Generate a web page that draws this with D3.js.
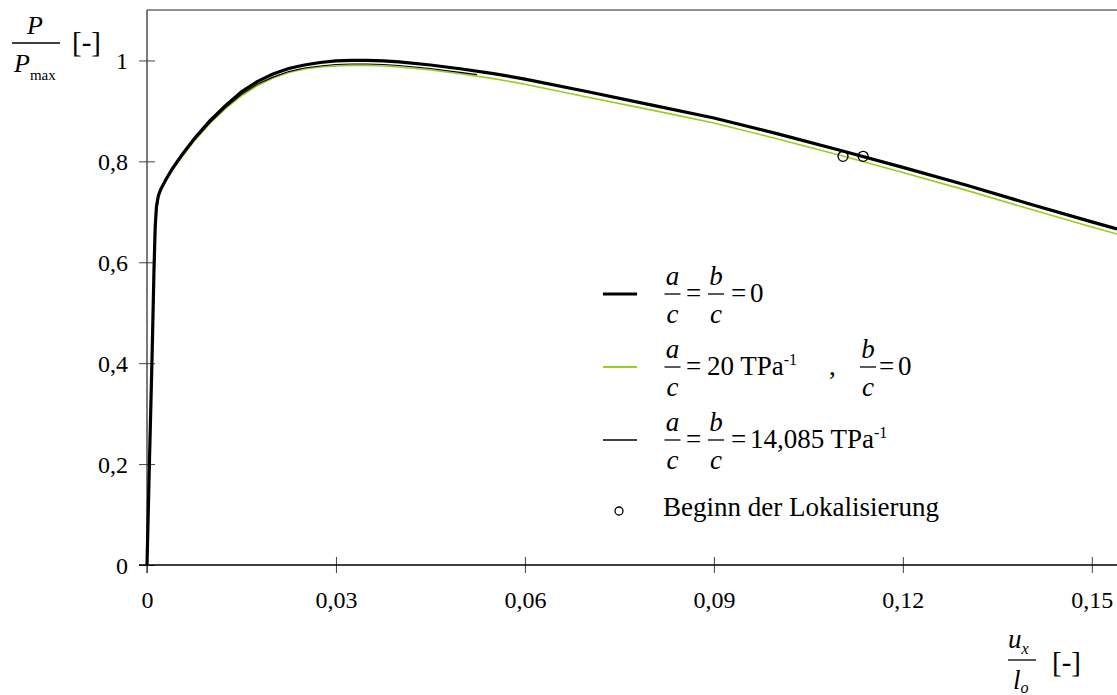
<!DOCTYPE html>
<html>
<head>
<meta charset="utf-8">
<script src="https://cdn.jsdelivr.net/npm/d3@7/dist/d3.min.js"></script>
<style>
  html, body { margin: 0; padding: 0; background: #fff; }
  svg { display: block; }
  text { font-family: "Liberation Serif", "Times New Roman", serif; fill: #000; }
  .it { font-style: italic; }
</style>
</head>
<body>
<svg id="chart" width="1117" height="695"></svg>
<script>
// Normalised load P/Pmax against normalised displacement u_x/l_o
const xGrid = [0, 0.0004, 0.0008, 0.0011, 0.0013, 0.0015, 0.0018, 0.0022, 0.003, 0.004,
  0.0055, 0.0075, 0.01, 0.0125, 0.015, 0.0175, 0.02, 0.0225, 0.025, 0.0275, 0.03,
  0.0325, 0.035, 0.0375, 0.04, 0.045, 0.05, 0.055, 0.06, 0.07, 0.08, 0.09, 0.10,
  0.11, 0.12, 0.13, 0.14, 0.15, 0.154];

// a/c = b/c = 0
const loadZero = [0, 0.21, 0.41, 0.58, 0.67, 0.71, 0.732, 0.745, 0.764, 0.785,
  0.812, 0.845, 0.881, 0.911, 0.938, 0.958, 0.973, 0.984, 0.991, 0.996, 0.999,
  1.0, 1.0, 0.999, 0.997, 0.991, 0.983, 0.974, 0.963, 0.938, 0.912, 0.886, 0.855,
  0.822, 0.788, 0.753, 0.716, 0.680, 0.666];

// a/c = 20 TPa^-1, b/c = 0
const loadA20 = [0, 0.20, 0.40, 0.56, 0.65, 0.70, 0.727, 0.742, 0.761, 0.782,
  0.808, 0.840, 0.875, 0.905, 0.930, 0.950, 0.965, 0.976, 0.983, 0.987, 0.989,
  0.990, 0.990, 0.989, 0.987, 0.981, 0.973, 0.964, 0.953, 0.927, 0.902, 0.876, 0.845,
  0.812, 0.778, 0.743, 0.706, 0.670, 0.656];

// a/c = b/c = 14,085 TPa^-1 (computed up to u_x/l_o = 0.0524)
const xGridAB = [0, 0.0004, 0.0008, 0.0011, 0.0013, 0.0015, 0.0018, 0.0022, 0.003, 0.004,
  0.0055, 0.0075, 0.01, 0.0125, 0.015, 0.0175, 0.02, 0.0225, 0.025, 0.0275, 0.03,
  0.0325, 0.035, 0.0375, 0.04, 0.045, 0.05, 0.0524];
const loadAB = [0, 0.21, 0.41, 0.57, 0.66, 0.705, 0.729, 0.743, 0.762, 0.783,
  0.810, 0.842, 0.877, 0.907, 0.933, 0.953, 0.967, 0.978, 0.985, 0.989, 0.992,
  0.993, 0.993, 0.992, 0.990, 0.984, 0.976, 0.972];

// onset of localisation
const localX = [0.1105, 0.1137];
const localY = [0.810, 0.810];

const xTicks = [0, 0.03, 0.06, 0.09, 0.12, 0.15];
const xTickLabels = ["0", "0,03", "0,06", "0,09", "0,12", "0,15"];
const yTicks = [0, 0.2, 0.4, 0.6, 0.8, 1];
const yTickLabels = ["0", "0,2", "0,4", "0,6", "0,8", "1"];

const serif = "'Liberation Serif', 'Times New Roman', serif";
const svg = d3.select("#chart").attr("font-family", serif);
const plotLeft = 147, plotRight = 1117, plotTop = 10, plotBottom = 565;

const x = d3.scaleLinear().domain([0, 0.154]).range([plotLeft, plotRight]);
const y = d3.scaleLinear().domain([0, 1.1]).range([plotBottom, plotTop]);

// frame top edge
svg.append("line").attr("x1", plotLeft).attr("x2", plotRight).attr("y1", plotTop).attr("y2", plotTop)
  .attr("stroke", "#222").attr("stroke-width", 1);

// y axis
const yAxis = svg.append("g").attr("transform", `translate(${plotLeft},0)`)
  .call(d3.axisLeft(y).tickValues(yTicks).tickSize(8)
    .tickFormat((d, i) => yTickLabels[i]))
  .attr("font-family", serif).attr("font-size", 24);
yAxis.select(".domain").remove();
yAxis.append("line").attr("x1", 0).attr("x2", 0).attr("y1", plotTop).attr("y2", plotBottom + 8)
  .attr("stroke", "#333").attr("stroke-width", 1.3);
yAxis.selectAll(".tick line").attr("x1", -8).attr("x2", 8).attr("stroke", "#444");
yAxis.selectAll(".tick text").attr("x", -19).attr("dy", "0.34em").attr("fill", "#000");

// x axis
const xAxis = svg.append("g").attr("transform", `translate(0,${plotBottom})`)
  .call(d3.axisBottom(x).tickValues(xTicks).tickSize(8)
    .tickFormat((d, i) => xTickLabels[i]))
  .attr("font-family", serif).attr("font-size", 24);
xAxis.select(".domain").remove();
xAxis.append("line").attr("x1", plotLeft - 8).attr("x2", plotRight).attr("y1", 0).attr("y2", 0)
  .attr("stroke", "#000").attr("stroke-width", 1.3);
xAxis.selectAll(".tick line").attr("y1", -8).attr("y2", 8).attr("stroke", "#444");
xAxis.selectAll(".tick text").attr("y", 43).attr("dy", 0).attr("fill", "#000");

// curves
const line = d3.line().x(d => x(d[0])).y(d => y(d[1]));
const green = "#9acc1e";

svg.append("path").datum(d3.zip(xGrid, loadA20)).attr("d", line)
  .attr("fill", "none").attr("stroke", green).attr("stroke-width", 1.6);
svg.append("path").datum(d3.zip(xGrid, loadZero)).attr("d", line)
  .attr("fill", "none").attr("stroke", "#000").attr("stroke-width", 3.2);
svg.append("path").datum(d3.zip(xGridAB, loadAB)).attr("d", line)
  .attr("fill", "none").attr("stroke", "#000").attr("stroke-width", 1.2);

svg.selectAll("circle.loc").data(d3.zip(localX, localY)).join("circle")
  .attr("class", "loc")
  .attr("cx", d => x(d[0])).attr("cy", d => y(d[1])).attr("r", 5)
  .attr("fill", "none").attr("stroke", "#000").attr("stroke-width", 1.3);

// helpers for stacked fractions
const FS = 27;
function frac(g, cx, barY, num, den, w) {
  g.append("text").attr("class", "it").attr("x", cx).attr("y", barY - 9)
    .attr("text-anchor", "middle").style("font-size", FS + "px").text(num);
  g.append("line").attr("x1", cx - w / 2).attr("x2", cx + w / 2)
    .attr("y1", barY).attr("y2", barY).attr("stroke", "#000").attr("stroke-width", 1.3);
  g.append("text").attr("class", "it").attr("x", cx).attr("y", barY + 29)
    .attr("text-anchor", "middle").style("font-size", FS + "px").text(den);
}
function txt(g, xx, yy, s, size) {
  return g.append("text").attr("x", xx).attr("y", yy).style("font-size", size + "px").text(s);
}
function withPower(g, xx, yy, base, power) {
  const t = g.append("text").attr("x", xx).attr("y", yy).style("font-size", FS + "px");
  t.append("tspan").text(base);
  t.append("tspan").attr("dy", -10).style("font-size", "16px").text(power);
  return t;
}

// legend
const lg = svg.append("g");
const rows = [294, 367, 440];
const sampleX = [603, 637];

lg.append("line").attr("x1", sampleX[0]).attr("x2", sampleX[1]).attr("y1", rows[0]).attr("y2", rows[0])
  .attr("stroke", "#000").attr("stroke-width", 3.2);
frac(lg, 672.5, rows[0], "a", "c", 16);
txt(lg, 686, rows[0] + 8, "=", FS);
frac(lg, 716, rows[0], "b", "c", 16);
txt(lg, 731, rows[0] + 8, "=", FS);
txt(lg, 750, rows[0] + 8, "0", FS);

lg.append("line").attr("x1", sampleX[0]).attr("x2", sampleX[1]).attr("y1", rows[1]).attr("y2", rows[1])
  .attr("stroke", green).attr("stroke-width", 1.8);
frac(lg, 672.5, rows[1], "a", "c", 16);
txt(lg, 686, rows[1] + 8, "=", FS);
withPower(lg, 707, rows[1] + 8, "20 TPa", "-1");
txt(lg, 829, rows[1] + 8, ",", FS);
frac(lg, 868, rows[1], "b", "c", 16);
txt(lg, 879, rows[1] + 8, "=", FS);
txt(lg, 898, rows[1] + 8, "0", FS);

lg.append("line").attr("x1", sampleX[0]).attr("x2", sampleX[1]).attr("y1", rows[2]).attr("y2", rows[2])
  .attr("stroke", "#000").attr("stroke-width", 1.3);
frac(lg, 672.5, rows[2], "a", "c", 16);
txt(lg, 686, rows[2] + 8, "=", FS);
frac(lg, 716, rows[2], "b", "c", 16);
txt(lg, 731, rows[2] + 8, "=", FS);
withPower(lg, 750, rows[2] + 8, "14,085 TPa", "-1");

lg.append("circle").attr("cx", 619).attr("cy", 511).attr("r", 4)
  .attr("fill", "none").attr("stroke", "#000").attr("stroke-width", 1.3);
txt(lg, 663, 516, "Beginn der Lokalisierung", FS);

// y axis title: P / P_max [-]
const yt = svg.append("g");
yt.append("text").attr("class", "it").attr("x", 35).attr("y", 34).attr("text-anchor", "middle")
  .style("font-size", "26px").text("P");
yt.append("line").attr("x1", 12).attr("x2", 60).attr("y1", 43).attr("y2", 43)
  .attr("stroke", "#000").attr("stroke-width", 1.3);
const pm = yt.append("text").attr("x", 14).attr("y", 72).style("font-size", "26px");
pm.append("tspan").attr("class", "it").text("P");
pm.append("tspan").attr("dy", 8).style("font-size", "15px").text("max");
txt(yt, 72, 52, "[-]", 29);

// x axis title: u_x / l_o [-]
const xt = svg.append("g");
const ux = xt.append("text").attr("x", 1008).attr("y", 648).style("font-size", "27px");
ux.append("tspan").attr("class", "it").text("u");
ux.append("tspan").attr("class", "it").attr("dy", 6).style("font-size", "16px").text("x");
xt.append("line").attr("x1", 1008).attr("x2", 1036).attr("y1", 660).attr("y2", 660)
  .attr("stroke", "#000").attr("stroke-width", 1.3);
const lo = xt.append("text").attr("x", 1013).attr("y", 689).style("font-size", "27px");
lo.append("tspan").attr("class", "it").text("l");
lo.append("tspan").attr("class", "it").attr("dy", 4).style("font-size", "16px").text("o");
txt(xt, 1052, 672, "[-]", 29);
</script>
</body>
</html>
